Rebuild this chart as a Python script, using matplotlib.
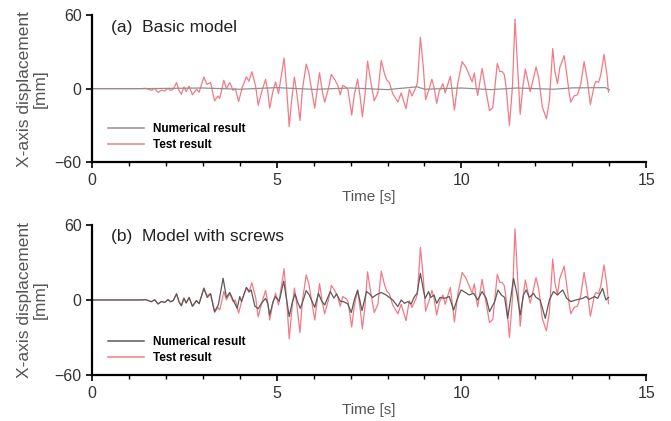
import matplotlib
matplotlib.use("Agg")
from matplotlib import pyplot as plt
from matplotlib.ticker import MultipleLocator

plt.rcParams['font.family'] = ['Liberation Sans', 'DejaVu Sans']

# test result (same shaking table record in both panels), time [s] / displacement [mm]
test_t = [0.0, 1.35, 1.45, 1.61, 1.7, 1.79, 1.88, 1.97, 2.06, 2.12, 2.2, 2.29, 2.36, 2.42,
          2.49, 2.55, 2.63, 2.72, 2.83, 2.9, 3.03, 3.11, 3.21, 3.32, 3.41, 3.46, 3.57, 3.64,
          3.73, 3.82, 3.88, 3.97, 4.07, 4.18, 4.25, 4.33, 4.43, 4.5, 4.6, 4.7, 4.76, 4.81,
          4.9, 4.97, 5.05, 5.2, 5.27, 5.34, 5.41, 5.48, 5.55, 5.63, 5.7, 5.8, 5.87, 5.93,
          6.03, 6.16, 6.24, 6.3, 6.4, 6.48, 6.56, 6.65, 6.72, 6.79, 6.88, 6.93, 7.03, 7.1,
          7.19, 7.26, 7.32, 7.39, 7.46, 7.54, 7.64, 7.74, 7.83, 7.92, 7.98, 8.05, 8.14, 8.28,
          8.37, 8.5, 8.59, 8.66, 8.76, 8.81, 8.89, 8.97, 9.03, 9.12, 9.2, 9.26, 9.33, 9.4,
          9.5, 9.56, 9.6, 9.7, 9.81, 9.9, 10.02, 10.13, 10.22, 10.29, 10.35, 10.4, 10.44,
          10.56, 10.63, 10.76, 10.85, 10.97, 11.04, 11.1, 11.16, 11.21, 11.3, 11.38, 11.45,
          11.52, 11.59, 11.66, 11.73, 11.81, 11.86, 11.94, 12.02, 12.09, 12.19, 12.3, 12.38,
          12.47, 12.53, 12.6, 12.66, 12.78, 12.84, 12.92, 12.96, 13.05, 13.14, 13.23, 13.32,
          13.41, 13.49, 13.6, 13.64, 13.71, 13.77, 13.86, 13.94, 13.98]
test_x = [0, 0, 0.3, -1.4, 0.2, -3.2, -1.2, -2, 0.3, -1.4, -0.5, 4.9, -1.8, -4.6,
          1.4, -2.4, 2, -5, -0.5, -3, 9.5, 3.5, 5, -10, -6, -8, 6.8, 0,
          5, -1.4, 0, -10.5, 1, 9.7, 6, 13.8, 2, -13.5, -2, 7.6, -2, -16,
          -2, 5.4, -4, 25, 0, -31, -8, 9.5, -5, -26, 0, 20, 13, 2,
          -16, 13, -3, -11, 0, 11.6, 8, 3, -5, 2.7, 1, -1, -21.6, -5,
          7.8, -7, -23, -5, 22.5, 7, -10, -3.5, 23, 12, 7, 5, -4, -11,
          -3.5, -16.5, -0.5, -6, 0.3, 5, 42, 17, -9, -1, 7.6, 1, -12, -2,
          4, -3.5, 0.5, 10, -17.6, 4, 22, 17, 10.5, 5.5, 12.8, 1, -5.5,
          16.5, 4, -18, -15.5, 20.5, 14, 14, 11.5, 1, -30, 1, 56.7,
          17, -21, 1, 16, 5, -2.5, 7, 17.8, 9, -15, -24.6, -10,
          32.7, 14, 4, 17, 27, 14, -4, -11, -6, -5, 3.5, 22,
          6, -13, 3.5, 6, 5, 11, 28, 11, -3]

# numerical result, (a) basic model
num_a_t = [0.0, 1.5, 3.0, 4.0, 5.0, 6.0, 7.0, 8.0, 8.8, 9.0, 10.0, 10.8, 11.5, 12.5, 13.0, 13.9, 14.0]
num_a_x = [0, 0, 0.5, -0.5, 0.8, -0.6, 0.5, -0.8, 1.5, -0.5, 0.5, -0.8, 0.5, -0.5, 0.6, 0.8, -1]

# numerical result, (b) model with screws
num_b_t = test_t[:20] + [
    3.03, 3.12, 3.21, 3.32, 3.42, 3.55, 3.64, 3.73, 3.82, 3.93, 4.0, 4.05, 4.18, 4.26,
    4.31, 4.41, 4.5, 4.58, 4.7, 4.76, 4.81, 4.9, 4.97, 5.07, 5.19, 5.27, 5.34, 5.42,
    5.5, 5.57, 5.64, 5.72, 5.8, 5.88, 6.03, 6.13, 6.22, 6.3, 6.45, 6.55, 6.62, 6.72,
    6.82, 6.92, 7.02, 7.1, 7.19, 7.31, 7.43, 7.51, 7.6, 7.69, 7.83, 7.96, 8.14, 8.28,
    8.37, 8.46, 8.55, 8.64, 8.73, 8.8, 8.89, 8.97, 9.02, 9.11, 9.17, 9.26, 9.33, 9.42,
    9.54, 9.67, 9.79, 9.88, 9.99, 10.11, 10.21, 10.33, 10.44, 10.56, 10.67, 10.76, 10.9,
    10.99, 11.08, 11.17, 11.25, 11.32, 11.41, 11.5, 11.59, 11.68, 11.75, 11.84, 11.95,
    12.02, 12.13, 12.27, 12.38, 12.49, 12.6, 12.74, 12.85, 12.96, 13.1, 13.28, 13.37,
    13.46, 13.6, 13.69, 13.82, 13.91, 13.98]
num_b_x = test_x[:20] + [
    9.3, 2, 5, -9.3, -4, 17.3, 2, 6, 0, -6.7, 2.7, -1.3, 10, 6.7,
    8, -5, -7, -3, 1.3, -3, -12, -1.5, 2.7, -1, 15, 0, -13.3, -2,
    4.8, -2, -6.7, 0, 7.5, 4, -5.9, 5.3, -1, -4, 6.7, 1.5, 4.8, -1,
    -1.5, -3, -10, 0, 7.8, -8.5, 6.7, 5, 2, 4, 6, 4, 0, -5.3,
    0, -2.7, -1.3, -3.2, 2.7, 5.3, 21.3, 8, 1.3, 6.7, 2, 4, -2.7, 2,
    1.3, 2.7, -8, 0, 8, 5.9, 4, 5.3, 0, 6.7, 1.3, -9.3, -1.3,
    8, 4, 2, -14.7, -1.3, 17.3, 5.3, -12, 4, 8, 2, 5.3,
    2, 0, -14.7, 0, 6.7, 4, 8, 1.3, -1.3, 0, 1.3, 2.7,
    0.5, 2.7, 1.3, 9.3, 0, 2]

titles = ['(a)  Basic model', '(b)  Model with screws']
num_colors = ['#909090', '#5a5a5a']

fig = plt.figure(figsize=(6.71, 4.21), dpi=100)
ax_a = fig.add_axes([0.137, 0.615, 0.826, 0.349])
ax_b = fig.add_axes([0.137, 0.109, 0.826, 0.357])

for ax, title, nt, nx, nc in zip([ax_a, ax_b], titles, [num_a_t, num_b_t],
                                 [num_a_x, num_b_x], num_colors):
    red, = ax.plot(test_t, test_x, color='#f27a86', lw=0.9, solid_joinstyle='round')
    num, = ax.plot(nt, nx, color=nc, lw=0.9, solid_joinstyle='round')
    ax.set_xlim(0, 15)
    ax.set_ylim(-60, 60)
    ax.set_yticks([-60, 0, 60])
    ax.set_xticks([0, 5, 10, 15])
    ax.xaxis.set_minor_locator(MultipleLocator(1))
    for s in ['top', 'right']:
        ax.spines[s].set_visible(False)
    for s in ['left', 'bottom']:
        ax.spines[s].set_linewidth(1.6)
    ax.tick_params(axis='both', labelsize=11.5, width=1.2, length=4, colors='black',
                   labelcolor='#333333')
    ax.tick_params(axis='x', which='minor', length=3, width=1)
    ax.set_xlabel('Time [s]', fontsize=11, color='#555555', labelpad=2)
    ax.set_ylabel('X-axis displacement\n[mm]', fontsize=12.5, color='#555555',
                  labelpad=5, linespacing=1.05)
    ax.text(0.035, 0.97, title, transform=ax.transAxes, fontsize=12.5,
            va='top', ha='left', color='#222222')
    leg = ax.legend([num, red], ['Numerical result', 'Test result'], loc='lower left',
                    bbox_to_anchor=(0.01, 0.0), frameon=False, handlelength=3.0,
                    labelspacing=0.35, prop={'weight': 'bold', 'size': 8.5})
    for h in leg.get_lines():
        h.set_linewidth(1.1)

plt.savefig('out.png', dpi=100)
